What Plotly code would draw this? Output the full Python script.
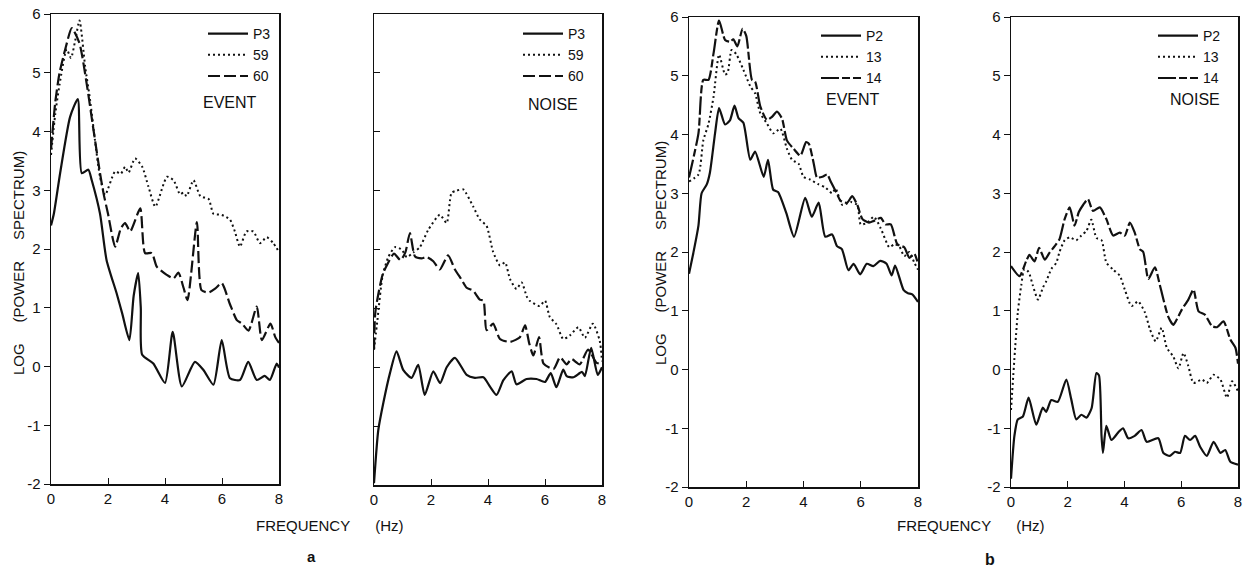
import plotly.graph_objects as go

W, H = 1247, 572

# ---------------- data (frequency in Hz, log power spectrum) ----------------
# Panel a, EVENT
a_ev_p3_f = [0, 0.1, 0.32, 0.67, 0.94, 1.08, 1.31, 1.43, 1.72, 1.95, 2.3, 2.5, 2.75, 2.9, 3.06, 3.15, 3.2, 3.59, 4.0, 4.27, 4.59, 5.05, 5.35, 5.7, 5.99, 6.28, 6.63, 6.92, 7.22, 7.5, 7.68, 7.92, 8.0]
a_ev_p3_v = [2.4, 2.6, 3.29, 4.25, 4.55, 3.29, 3.35, 3.17, 2.6, 1.81, 1.25, 0.9, 0.45, 1.2, 1.59, 1.0, 0.2, 0.05, -0.28, 0.59, -0.34, 0.08, -0.06, -0.31, 0.45, -0.2, -0.23, 0.08, -0.23, -0.16, -0.23, 0.05, -0.02]
a_ev_59_f = [0, 0.15, 0.3, 0.55, 0.7, 0.85, 1.0, 1.2, 1.37, 1.54, 1.72, 1.9, 2.25, 2.45, 2.6, 2.72, 2.95, 3.2, 3.42, 3.66, 4.07, 4.3, 4.53, 4.65, 4.76, 5.0, 5.24, 5.53, 5.7, 5.99, 6.28, 6.45, 6.63, 6.86, 7.1, 7.33, 7.57, 7.8, 8.0]
a_ev_59_v = [3.6, 4.3, 4.8, 5.4, 5.25, 5.55, 5.89, 5.1, 4.54, 3.86, 3.23, 2.92, 3.32, 3.28, 3.4, 3.3, 3.54, 3.4, 3.06, 2.72, 3.23, 3.17, 2.93, 2.96, 2.9, 3.17, 2.9, 2.85, 2.6, 2.58, 2.5, 2.3, 2.04, 2.3, 2.3, 2.1, 2.2, 2.1, 1.95]
a_ev_60_f = [0, 0.15, 0.3, 0.5, 0.73, 1.0, 1.25, 1.49, 1.72, 1.85, 2.0, 2.25, 2.45, 2.6, 2.78, 3.13, 3.3, 3.54, 3.71, 4.06, 4.3, 4.47, 4.65, 4.79, 5.12, 5.28, 5.53, 5.77, 5.99, 6.28, 6.52, 6.7, 6.93, 7.22, 7.4, 7.7, 7.87, 8.0]
a_ev_60_v = [3.7, 4.5, 5.0, 5.4, 5.76, 5.5, 4.82, 4.03, 3.29, 2.93, 2.6, 2.04, 2.35, 2.44, 2.3, 2.69, 1.93, 1.93, 1.7, 1.56, 1.5, 1.6, 1.34, 1.13, 2.46, 1.3, 1.26, 1.33, 1.42, 1.06, 0.79, 0.73, 0.61, 1.02, 0.45, 0.73, 0.5, 0.4]

# Panel a, NOISE
a_no_p3_f = [0, 0.15, 0.33, 0.56, 0.79, 1.03, 1.32, 1.55, 1.78, 2.08, 2.32, 2.55, 2.84, 3.25, 3.54, 3.84, 4.07, 4.3, 4.54, 4.83, 5.0, 5.35, 5.7, 6.0, 6.2, 6.4, 6.64, 6.76, 7.0, 7.3, 7.4, 7.62, 7.85, 8.0]
a_no_p3_v = [-1.97, -1.07, -0.6, -0.1, 0.27, -0.05, -0.18, 0.04, -0.47, -0.07, -0.27, 0.0, 0.16, -0.13, -0.18, -0.17, -0.33, -0.47, -0.22, -0.07, -0.29, -0.2, -0.2, -0.25, -0.1, -0.34, -0.04, -0.15, -0.17, -0.08, -0.15, 0.33, -0.13, 0.0]
a_no_59_f = [0, 0.12, 0.3, 0.5, 0.74, 0.97, 1.15, 1.38, 1.61, 1.9, 2.31, 2.55, 2.72, 2.9, 3.13, 3.48, 3.71, 3.95, 4.18, 4.42, 4.6, 4.77, 5.0, 5.18, 5.36, 5.46, 5.81, 6.0, 6.17, 6.4, 6.64, 6.87, 7.17, 7.4, 7.68, 7.92, 8.0]
a_no_59_v = [0.3, 0.8, 1.55, 1.87, 2.04, 2.0, 1.87, 1.95, 2.04, 2.33, 2.59, 2.45, 2.96, 3.0, 3.02, 2.73, 2.51, 2.4, 1.96, 1.73, 1.78, 1.5, 1.33, 1.44, 1.2, 1.13, 1.04, 1.13, 0.85, 0.73, 0.48, 0.54, 0.68, 0.5, 0.74, 0.45, 0.1]
a_no_60_f = [0, 0.05, 0.3, 0.47, 0.7, 0.93, 1.1, 1.26, 1.44, 1.67, 1.85, 2.08, 2.31, 2.6, 2.84, 3.07, 3.25, 3.48, 3.71, 3.84, 3.95, 4.18, 4.42, 4.77, 5.12, 5.3, 5.45, 5.59, 5.79, 5.95, 6.3, 6.53, 6.76, 6.93, 7.22, 7.51, 7.8, 8.0]
a_no_60_v = [0.3, 0.95, 1.57, 1.75, 1.93, 1.82, 1.95, 2.28, 1.88, 1.85, 1.87, 1.8, 1.66, 1.9, 1.66, 1.49, 1.35, 1.3, 1.15, 1.13, 0.63, 0.74, 0.48, 0.43, 0.51, 0.71, 0.4, 0.2, 0.51, 0.06, -0.03, 0.17, 0.05, 0.14, 0.05, 0.3, 0.08, 0.05]

# Panel b, EVENT
b_ev_p2_f = [0.0, 0.15, 0.33, 0.44, 0.62, 0.73, 0.91, 1.05, 1.26, 1.43, 1.59, 1.73, 1.9, 2.14, 2.31, 2.61, 2.76, 2.94, 3.11, 3.4, 3.67, 4.06, 4.29, 4.53, 4.76, 5.0, 5.17, 5.34, 5.57, 5.75, 5.98, 6.21, 6.44, 6.68, 6.9, 7.08, 7.2, 7.5, 7.65, 7.8, 8.0]
b_ev_p2_v = [1.63, 1.98, 2.45, 3.0, 3.15, 3.35, 4.02, 4.45, 4.17, 4.24, 4.49, 4.28, 4.2, 3.57, 3.71, 3.28, 3.57, 3.06, 3.02, 2.66, 2.26, 2.92, 2.6, 2.84, 2.26, 2.3, 2.1, 2.05, 1.69, 1.8, 1.62, 1.8, 1.76, 1.85, 1.8, 1.6, 1.77, 1.35, 1.3, 1.28, 1.15]
b_ev_13_f = [0.0, 0.33, 0.5, 0.68, 0.86, 1.05, 1.26, 1.35, 1.49, 1.66, 1.9, 2.14, 2.31, 2.49, 2.72, 2.95, 3.19, 3.42, 3.6, 3.83, 4.0, 4.24, 4.53, 4.76, 5.0, 5.12, 5.36, 5.65, 5.88, 6.0, 6.23, 6.46, 6.7, 7.0, 7.17, 7.34, 7.52, 7.7, 7.87, 8.0]
b_ev_13_v = [3.2, 3.32, 3.9, 4.18, 4.65, 5.36, 5.02, 5.05, 5.44, 5.36, 5.1, 4.82, 4.7, 4.36, 4.19, 4.02, 4.1, 3.76, 3.57, 3.5, 3.28, 3.23, 3.15, 3.1, 3.0, 3.08, 2.8, 2.85, 2.8, 2.47, 2.5, 2.6, 2.4, 2.08, 2.13, 2.1, 1.93, 2.0, 1.82, 1.7]
b_ev_14_f = [0.0, 0.33, 0.5, 0.68, 0.86, 1.05, 1.26, 1.43, 1.55, 1.69, 1.87, 2.0, 2.2, 2.31, 2.49, 2.72, 2.9, 3.07, 3.25, 3.42, 3.65, 3.89, 4.09, 4.19, 4.36, 4.47, 4.66, 4.83, 4.95, 5.12, 5.3, 5.53, 5.7, 5.88, 6.06, 6.29, 6.46, 6.7, 6.86, 7.05, 7.28, 7.52, 7.7, 7.87, 8.0]
b_ev_14_v = [3.27, 4.02, 4.93, 4.93, 5.39, 5.94, 5.61, 5.58, 5.62, 5.5, 5.8, 5.68, 4.93, 4.9, 4.48, 4.25, 4.3, 4.39, 4.27, 3.9, 3.76, 3.64, 3.87, 3.84, 3.5, 3.27, 3.28, 3.32, 3.2, 3.04, 2.87, 2.84, 2.95, 2.8, 2.56, 2.5, 2.53, 2.58, 2.47, 2.47, 2.13, 2.08, 1.9, 1.97, 1.8]

# Panel b, NOISE
b_no_p2_f = [0, 0.12, 0.24, 0.42, 0.62, 0.89, 1.12, 1.24, 1.42, 1.65, 1.95, 2.12, 2.3, 2.48, 2.66, 2.84, 3.01, 3.1, 3.19, 3.24, 3.36, 3.54, 3.78, 3.95, 4.13, 4.36, 4.6, 4.78, 5.19, 5.37, 5.6, 5.78, 5.96, 6.13, 6.31, 6.49, 6.67, 6.9, 7.14, 7.38, 7.55, 7.73, 8.0]
b_no_p2_v = [-1.86, -1.13, -0.85, -0.8, -0.48, -0.94, -0.65, -0.72, -0.52, -0.55, -0.17, -0.5, -0.85, -0.77, -0.82, -0.66, -0.06, -0.1, -1.13, -1.42, -0.96, -1.2, -1.07, -1.0, -1.17, -1.13, -1.03, -1.23, -1.17, -1.42, -1.47, -1.4, -1.42, -1.13, -1.2, -1.13, -1.32, -1.47, -1.23, -1.42, -1.37, -1.57, -1.62]
b_no_13_f = [0, 0.24, 0.36, 0.47, 0.62, 0.77, 0.95, 1.13, 1.24, 1.42, 1.6, 1.71, 1.89, 2.07, 2.3, 2.48, 2.66, 2.83, 3.01, 3.19, 3.36, 3.6, 3.83, 4.01, 4.25, 4.48, 4.72, 4.9, 5.1, 5.31, 5.49, 5.72, 5.9, 6.08, 6.25, 6.43, 6.73, 6.9, 7.14, 7.38, 7.61, 7.79, 8.0]
b_no_13_v = [-0.69, 0.97, 1.43, 1.71, 1.66, 1.43, 1.19, 1.4, 1.5, 1.71, 1.82, 2.0, 2.2, 2.25, 2.2, 2.28, 2.36, 2.55, 2.24, 2.2, 1.82, 1.7, 1.6, 1.36, 1.08, 1.16, 0.97, 0.68, 0.48, 0.71, 0.37, 0.22, 0.02, 0.28, 0.06, -0.23, -0.17, -0.23, -0.09, -0.17, -0.48, -0.2, -0.37]
b_no_14_f = [0, 0.3, 0.53, 0.65, 0.83, 0.99, 1.19, 1.36, 1.54, 1.71, 1.89, 2.07, 2.24, 2.39, 2.54, 2.71, 2.89, 3.13, 3.36, 3.6, 3.83, 4.01, 4.19, 4.36, 4.54, 4.66, 4.84, 5.07, 5.25, 5.54, 5.72, 5.84, 6.02, 6.25, 6.43, 6.61, 6.84, 7.08, 7.26, 7.49, 7.73, 7.91, 8.0]
b_no_14_v = [1.76, 1.59, 1.84, 1.95, 1.84, 2.07, 1.87, 1.99, 2.1, 2.22, 2.56, 2.76, 2.45, 2.68, 2.8, 2.9, 2.7, 2.76, 2.56, 2.28, 2.33, 2.28, 2.5, 2.33, 2.05, 2.0, 1.54, 1.74, 1.43, 0.9, 0.76, 0.85, 1.02, 1.19, 1.36, 0.99, 0.93, 0.74, 0.72, 0.82, 0.51, 0.37, 0.1]

x_ticks = [0, 2, 4, 6, 8]
y_ticks = [-2, -1, 0, 1, 2, 3, 4, 5, 6]
labels_a = ["P3", "59", "60"]
labels_b = ["P2", "13", "14"]
panel_kinds = ["EVENT", "NOISE", "EVENT", "NOISE"]

# ---------------- styling ----------------
FONT = "Liberation Sans, Arial, sans-serif"
INK = "#111111"
NB = "\u00a0"

def px_x(p):
    return p / W

def px_y(p):
    return 1 - p / H

# panel boxes in pixels: (left, right, top, bottom)
boxes = [(51, 279, 14, 484), (374, 602, 14, 485), (689, 918, 17, 487), (1011, 1238, 17, 487)]

styles_a = [dict(dash="solid", width=2.2), dict(dash="2px,3px", width=2.0), dict(dash="12px,4px", width=2.2)]
styles_b = [dict(dash="solid", width=2.2), dict(dash="2px,3px", width=2.0), dict(dash="18px,3px,8px,3px", width=2.2)]

panels = [
    ([(a_ev_p3_f, a_ev_p3_v), (a_ev_59_f, a_ev_59_v), (a_ev_60_f, a_ev_60_v)], labels_a, styles_a),
    ([(a_no_p3_f, a_no_p3_v), (a_no_59_f, a_no_59_v), (a_no_60_f, a_no_60_v)], labels_a, styles_a),
    ([(b_ev_p2_f, b_ev_p2_v), (b_ev_13_f, b_ev_13_v), (b_ev_14_f, b_ev_14_v)], labels_b, styles_b),
    ([(b_no_p2_f, b_no_p2_v), (b_no_13_f, b_no_13_v), (b_no_14_f, b_no_14_v)], labels_b, styles_b),
]

fig = go.Figure()
layout = dict(
    template="none",
    width=W, height=H,
    margin=dict(l=0, r=0, t=0, b=0, autoexpand=False),
    paper_bgcolor="white", plot_bgcolor="white",
    font=dict(family=FONT, color=INK, size=15),
    showlegend=True,
)

legend_pos = [(203, 18), (518, 18), (816, 20), (1153, 20)]

for i, (series, labels, styles) in enumerate(panels):
    n = i + 1
    xa = "x" if n == 1 else f"x{n}"
    ya = "y" if n == 1 else f"y{n}"
    lg = "legend" if n == 1 else f"legend{n}"
    for (f, v), lab, st in zip(series, labels, styles):
        fig.add_trace(go.Scatter(
            x=f, y=v, mode="lines", name=lab,
            line=dict(color=INK, width=st["width"], dash=st["dash"], shape="spline", smoothing=0.6),
            xaxis=xa, yaxis=ya, legend=lg, hoverinfo="skip",
        ))
    l, r, t, b = boxes[i]
    layout["xaxis" if n == 1 else f"xaxis{n}"] = dict(
        domain=[px_x(l), px_x(r)], range=[0, 8], anchor=ya, automargin=False,
        tickvals=x_ticks, ticktext=[str(t_) for t_ in x_ticks],
        ticks="inside", ticklen=6, tickcolor=INK,
        showline=True, mirror=True, linecolor=INK, linewidth=1.5,
        showgrid=False, zeroline=False, tickfont=dict(size=15, family=FONT, color=INK),
    )
    layout["yaxis" if n == 1 else f"yaxis{n}"] = dict(
        domain=[px_y(b), px_y(t)], range=[-2, 6], anchor=xa, automargin=False,
        tickvals=y_ticks, ticktext=[str(t_) for t_ in y_ticks],
        ticks=("inside" if n == 2 else "outside"), ticklen=6, tickcolor=INK,
        showticklabels=(n != 2),
        showline=True, mirror=True, linecolor=INK, linewidth=1.5,
        showgrid=False, zeroline=False, tickfont=dict(size=15, family=FONT, color=INK),
    )
    lx, ly = legend_pos[i]
    layout[lg] = dict(
        x=px_x(lx), y=px_y(ly), xanchor="left", yanchor="top",
        bgcolor="rgba(0,0,0,0)", borderwidth=0, tracegroupgap=0,
        font=dict(size=14, family=FONT, color=INK), itemwidth=40,
        itemclick=False, itemdoubleclick=False,
    )

fig.update_layout(**layout)

annotations = []

def note(text, x, y, size, angle=0):
    annotations.append(dict(text=text, x=px_x(x), y=px_y(y), xref="paper", yref="paper",
                            xanchor="center", yanchor="middle", showarrow=False, textangle=angle,
                            font=dict(size=size, family=FONT, color=INK)))

kind_pos = [(230, 102), (553, 104), (853, 100), (1195, 100)]
for kind, (kx, ky) in zip(panel_kinds, kind_pos):
    note(kind, kx, ky, 16)
# axis titles
for cx in (330, 971):
    note(f"FREQUENCY{NB*6}(Hz)", cx, 525, 15)
note(f"LOG{NB*5}(POWER{NB*5}SPECTRUM)", 18, 263, 15, -90)
note(f"LOG{NB*5}(POWER{NB*5}SPECTRUM)", 660, 253, 15, -90)
note("<b>a</b>", 311, 556, 15)
note("<b>b</b>", 990, 559, 16)
fig.update_layout(annotations=annotations)

fig.write_html(
    "out.html",
    config={"displayModeBar": False, "staticPlot": True},
    post_script="document.documentElement.style.margin='0';document.body.style.margin='0';document.body.style.overflow='hidden';",
)
